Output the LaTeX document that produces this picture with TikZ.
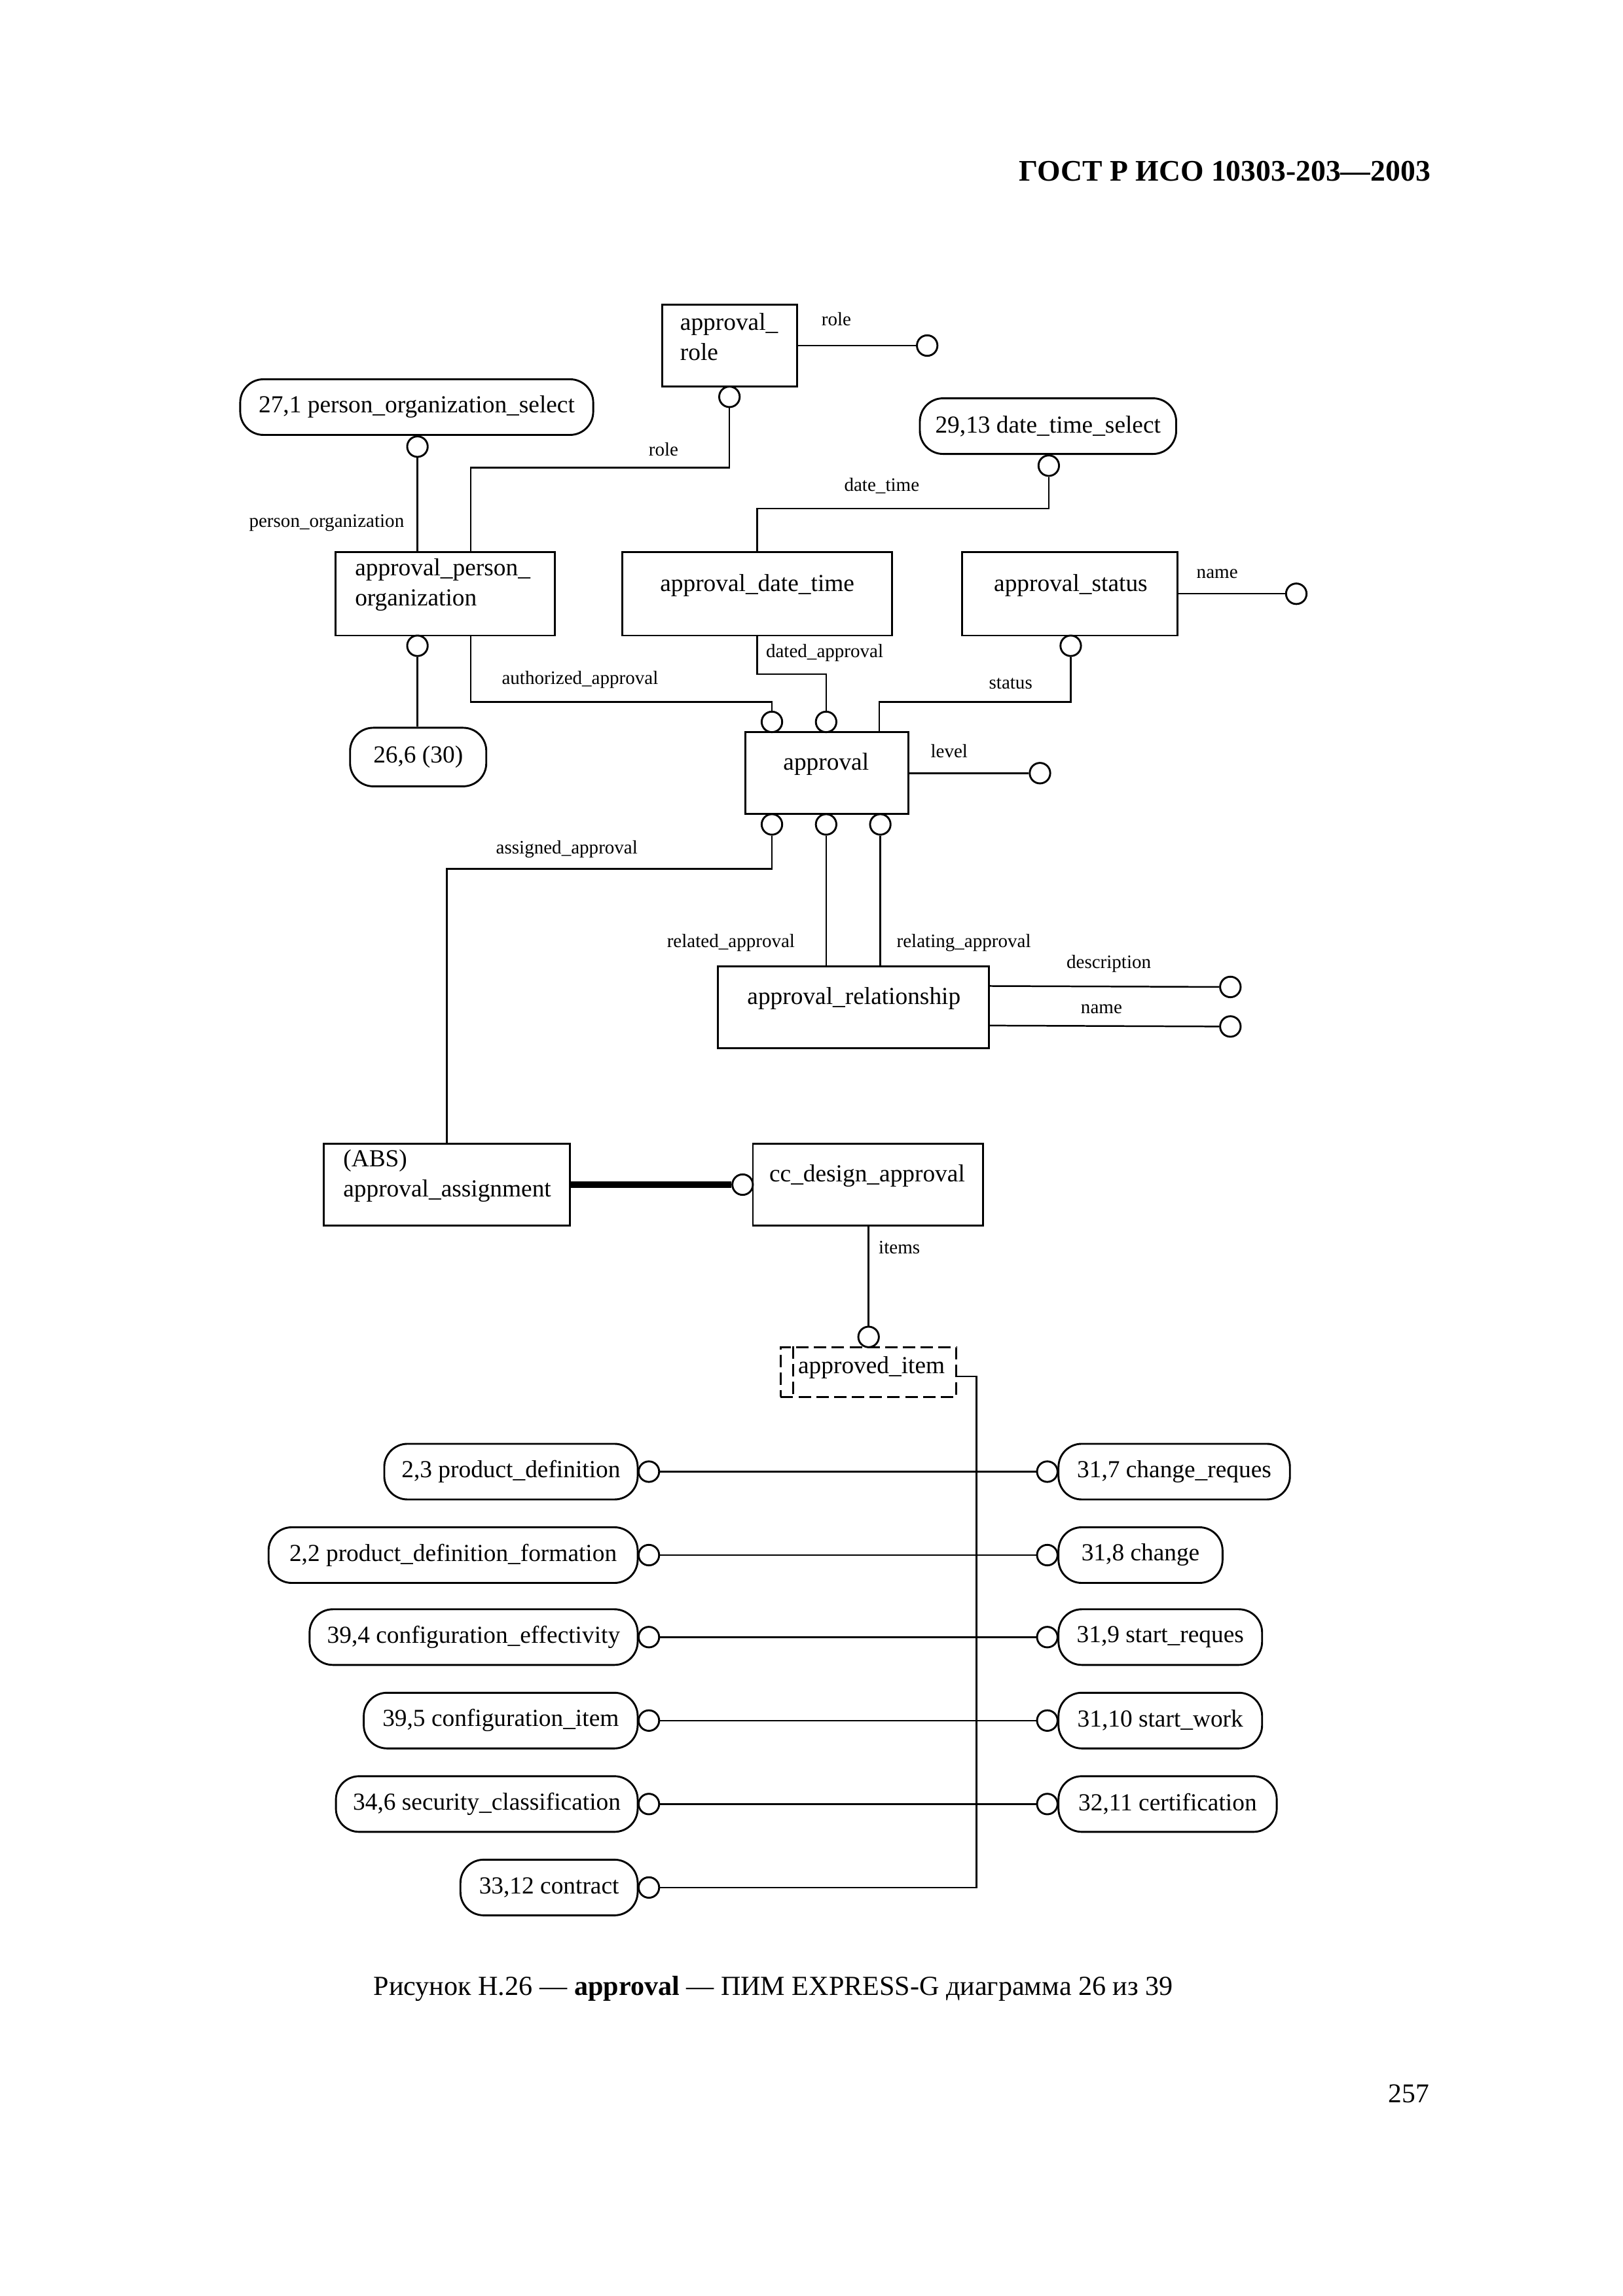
\documentclass[tikz,border=0pt]{standalone}
\usepackage{fontspec}
\setmainfont{Liberation Serif}
\usetikzlibrary{calc}
\def\px{0.18943mm}
\newcommand\etxt{\fontsize{9}{11}\selectfont}
\newcommand\ltxt{\fontsize{7}{8}\selectfont}
\tikzset{
  ent/.style={draw, line width=0.7pt, rectangle, inner sep=0pt},
  sel/.style={draw, line width=0.7pt, rounded corners=3mm, inner sep=0pt, font=\etxt, minimum height=38*\px},
  oc/.style={draw, circle, line width=0.7pt, minimum size=14*\px, inner sep=0pt, fill=white},
  etext/.style={font=\etxt, inner sep=0pt},
  lab/.style={font=\ltxt, inner sep=0pt},
  rel/.style={line width=0.6pt},
  subt/.style={line width=2.2pt},
  dsh/.style={line width=0.7pt, dash pattern=on 1.6mm off 0.7mm},
}
\begin{document}
\begin{tikzpicture}[x=\px, y=-\px]
\useasboundingbox (0mm,0mm) rectangle (209.89mm,-297.01mm);

% header, caption, page number
\node[font=\bfseries\fontsize{11}{13}\selectfont, anchor=east, inner sep=0pt] (hdr) at (977,117) {ГОСТ Р ИСО 10303-203—2003};
\node[font=\fontsize{10.15}{12}\selectfont, inner sep=0pt] (cap) at (528,1358) {Рисунок Н.26 — \textbf{approval} — ПИМ EXPRESS-G диаграмма 26 из 39};
\node[font=\fontsize{10}{12}\selectfont, anchor=east, inner sep=0pt] (pg) at (976,1430) {257};

% entity boxes
\node[ent, minimum width=92*\px, minimum height=56*\px] (ar) at (498,236) {};
\node[etext, align=left, anchor=west] (art) at (464,230) {approval\_\\role};
\node[sel, minimum width=241*\px] (pos) at (284.5,278) {27,1 person\_organization\_select};
\node[sel, minimum width=175*\px] (dts) at (715.5,291) {29,13 date\_time\_select};
\node[ent, minimum width=150*\px, minimum height=57*\px] (apo) at (304,405.5) {};
\node[etext, align=left, anchor=west] (apot) at (242,399.5) {approval\_person\_\\organization};
\node[ent, minimum width=184*\px, minimum height=57*\px] (adt) at (517,405.5) {};
\node[etext] (adtt) at (517,400) {approval\_date\_time};
\node[ent, minimum width=147*\px, minimum height=57*\px] (as) at (730.5,405.5) {};
\node[etext] (ast) at (731,400) {approval\_status};
\node[sel, minimum width=93*\px, minimum height=40*\px] (r26) at (285.5,517) {26,6 (30)};
\node[ent, minimum width=111*\px, minimum height=56*\px] (ap) at (564.5,528) {};
\node[etext] (apt) at (564,522) {approval};
\node[ent, minimum width=185*\px, minimum height=56*\px] (arel) at (582.5,688) {};
\node[etext] (arelt) at (583,682) {approval\_relationship};
\node[ent, minimum width=168*\px, minimum height=56*\px] (aas) at (305,809) {};
\node[etext, align=left, anchor=west] (aast) at (234,803) {(ABS)\\approval\_assignment};
\node[ent, minimum width=157*\px, minimum height=56*\px] (ccd) at (592.5,809) {};
\node[etext] (ccdt) at (592,803) {cc\_design\_approval};
\node[draw, dsh, inner sep=0pt, minimum width=120*\px, minimum height=34*\px] (ai) at (593,937) {};
\node[etext] (ait) at (595,934) {approved\_item};
\draw[dsh] ($(ai.north west)+(9,0)$) -- ($(ai.south west)+(9,0)$);

% circles
\node[oc] (arR) at (633,236) {};
\node[oc] (cAR) at (498,271) {};
\node[oc] (cPOS) at (285,305) {};
\node[oc] (cDTS) at (716,318) {};
\node[oc] (cAPO) at (285,441) {};
\node[oc] (cAS) at (731,441) {};
\node[oc] (asN) at (885,405.5) {};
\node[oc] (cA1) at (527,493) {};
\node[oc] (cA2) at (564,493) {};
\node[oc] (lv) at (710,528) {};
\node[oc] (cB1) at (527,563) {};
\node[oc] (cB2) at (564,563) {};
\node[oc] (cB3) at (601,563) {};
\node[oc] (dsc) at (840,674) {};
\node[oc] (nm) at (840,701) {};
\node[oc] (cCCD) at (507,809) {};
\node[oc] (cAI) at (593,913) {};

% connectors, upper part
\draw[rel] (ar.east) -- (arR.west);
\node[lab] (l1) at (571,218) {role};
\draw[rel] (cAR.south) |- ($(apo.north west)+(93,-57)$) -- ($(apo.north west)+(93,0)$);
\node[lab] (l2) at (453,307) {role};
\draw[rel] (cPOS.south) -- (cPOS.south |- apo.north);
\node[lab] (l3) at (223,357) {person\_organization};
\draw[rel] (cDTS.south) |- ($(adt.north)+(0,-29)$) -- (adt.north);
\node[lab] (l4) at (602,332) {date\_time};
\draw[rel] (as.east) -- (asN.west);
\node[lab] (l5) at (831,392) {name};
\draw[rel] (cAPO.south) -- (cAPO.south |- r26.north);
\draw[rel] ($(apo.south west)+(93,0)$) |- ($(cA1.north)+(0,-6)$) -- (cA1.north);
\node[lab] (l6) at (396,464) {authorized\_approval};
\draw[rel] (adt.south) |- ($(cA2.north)+(0,-25)$) -- (cA2.north);
\node[lab] (l7) at (563,446) {dated\_approval};
\draw[rel] (cAS.south) |- ($(ap.north west)+(92,-20)$) -- ($(ap.north west)+(92,0)$);
\node[lab] (l8) at (690,467) {status};
\draw[rel] (ap.east) -- (lv.west);
\node[lab] (l9) at (648,513) {level};
\draw[rel] (cB1.south) |- ($(aas.north)+(0,-187)$) -- (aas.north);
\node[lab] (l10) at (387,580) {assigned\_approval};
\draw[rel] (cB2.south) -- (cB2.south |- arel.north);
\node[lab] (l11) at (499,644) {related\_approval};
\draw[rel] (cB3.south) -- (cB3.south |- arel.north);
\node[lab] (l12) at (658,644) {relating\_approval};
\draw[rel] ($(arel.north east)+(0,14)$) -- (dsc.west);
\node[lab] (l13) at (757,658) {description};
\draw[rel] ($(arel.north east)+(0,41)$) -- (nm.west);
\node[lab] (l14) at (752,689) {name};
\draw[subt] (aas.east) -- (cCCD.west);
\draw[rel] (cAI.north |- ccd.south) -- (cAI.north);
\node[lab] (l15) at (614,852) {items};

% select items
\node[sel, minimum width=173*\px, anchor=east] (L1) at (436,1005) {2,3 product\_definition};
\node[sel, minimum width=252*\px, anchor=east] (L2) at (436,1062) {2,2 product\_definition\_formation};
\node[sel, minimum width=224*\px, anchor=east] (L3) at (436,1118) {39,4 configuration\_effectivity};
\node[sel, minimum width=187*\px, anchor=east] (L4) at (436,1175) {39,5 configuration\_item};
\node[sel, minimum width=206*\px, anchor=east] (L5) at (436,1232) {34,6 security\_classification};
\node[sel, minimum width=121*\px, anchor=east] (L6) at (436,1289) {33,12 contract};
\node[sel, minimum width=158*\px, anchor=west] (R1) at (722,1005) {31,7 change\_reques};
\node[sel, minimum width=112*\px, anchor=west] (R2) at (722,1062) {31,8 change};
\node[sel, minimum width=139*\px, anchor=west] (R3) at (722,1118) {31,9 start\_reques};
\node[sel, minimum width=139*\px, anchor=west] (R4) at (722,1175) {31,10 start\_work};
\node[sel, minimum width=149*\px, anchor=west] (R5) at (722,1232) {32,11 certification};
\foreach \i/\y in {1/1005,2/1062,3/1118,4/1175,5/1232,6/1289} {
  \node[oc] (cL\i) at (443,\y) {};
}
\foreach \i/\y in {1/1005,2/1062,3/1118,4/1175,5/1232} {
  \node[oc] (cR\i) at (715,\y) {};
  \draw[rel] (cL\i.east) -- (cR\i.west);
}
\draw[rel] (cL6.east) -| ($(ai.east)+(13,3)$) -- ($(ai.east)+(0,3)$);
\end{tikzpicture}
\end{document}
